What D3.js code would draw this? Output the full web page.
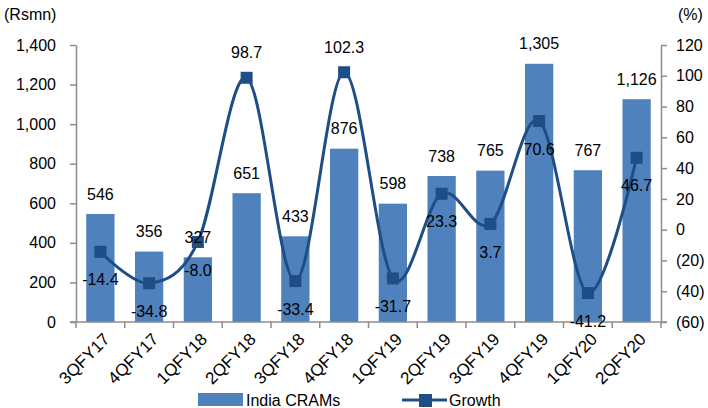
<!DOCTYPE html>
<html><head><meta charset="utf-8">
<script src="https://cdn.jsdelivr.net/npm/d3@7"></script>
<style>body{margin:0;background:#fff}svg{display:block;font-family:"Liberation Sans",Arial,sans-serif}</style>
</head><body><svg id="c" width="708" height="408"></svg>
<script>
const categories = ["3QFY17","4QFY17","1QFY18","2QFY18","3QFY18","4QFY18","1QFY19","2QFY19","3QFY19","4QFY19","1QFY20","2QFY20"];
const cramsValues = [546,356,327,651,433,876,598,738,765,1305,767,1126];
const growthValues = [-14.4,-34.8,-8.0,98.7,-33.4,102.3,-31.7,23.3,3.7,70.6,-41.2,46.7];
const growthAbove = [false,false,false,true,false,true,false,false,false,false,false,false];
const leftTicks = [0,200,400,600,800,1000,1200,1400];
const rightTicks = [-60,-40,-20,0,20,40,60,80,100,120];

const svg = d3.select("#c");
const L = 76, R = 661, T = 45, B = 322;
const x = d3.scaleBand().domain(categories).range([L, R]).paddingInner(0.42).paddingOuter(0.21);
const xc = d => x(d) + x.bandwidth()/2;
const yL = d3.scaleLinear().domain([0,1400]).range([B,T]);
const yR = d3.scaleLinear().domain([-60,120]).range([B,T]);
const axisCol = "#8c8c8c";
const barCol = "#4f81bd";
const lineCol = "#1f4e86";

// bars
svg.append("g").selectAll("rect").data(cramsValues).join("rect")
  .attr("x",(d,i)=>x(categories[i])).attr("width",x.bandwidth())
  .attr("y",d=>yL(d)).attr("height",d=>B-yL(d)).attr("fill",barCol);

// axes
const fmt = d3.format(",");
const gL = svg.append("g").attr("transform",`translate(${L},0)`)
  .call(d3.axisLeft(yL).tickValues(leftTicks).tickFormat(fmt).tickSize(6).tickSizeOuter(0).tickPadding(14));
const rfmt = d => d<0 ? `(${-d})` : `${d}`;
const gR = svg.append("g").attr("transform",`translate(${R},0)`)
  .call(d3.axisRight(yR).tickValues(rightTicks).tickFormat(rfmt).tickSize(6).tickSizeOuter(0).tickPadding(9));
const xb = [...categories.map(c=>x(c)-x.step()*x.paddingInner()/2), R];
const gX = svg.append("g");
gX.append("line").attr("x1",L-6).attr("x2",R+6).attr("y1",B).attr("y2",B).attr("stroke",axisCol).attr("stroke-width",1.5);
gX.selectAll("line.t").data(xb).join("line").attr("class","t")
  .attr("x1",d=>d).attr("x2",d=>d).attr("y1",B).attr("y2",B+6).attr("stroke",axisCol).attr("stroke-width",1.5);
gX.selectAll("text").data(categories).join("text")
  .attr("transform",d=>`translate(${xc(d)+2},${B+10}) rotate(-45)`)
  .attr("text-anchor","end").attr("dy","0.7em").attr("font-size",17).attr("fill","#000").text(d=>d);
[gL,gR].forEach(g=>{
  g.select(".domain").attr("stroke",axisCol).attr("stroke-width",1.5);
  g.selectAll(".tick line").attr("stroke",axisCol).attr("stroke-width",1.5);
  g.selectAll(".tick text").attr("font-size",16).attr("fill","#000").attr("font-family","Liberation Sans, Arial, sans-serif");
});

// line
const line = d3.line().x((d,i)=>xc(categories[i])).y(d=>yR(d)).curve(d3.curveCatmullRom.alpha(0));
svg.append("path").datum(growthValues).attr("d",line).attr("fill","none").attr("stroke",lineCol).attr("stroke-width",3);
svg.append("g").selectAll("rect").data(growthValues).join("rect")
  .attr("x",(d,i)=>xc(categories[i])-6).attr("y",d=>yR(d)-6).attr("width",12).attr("height",12).attr("fill",lineCol);

// labels
svg.append("g").selectAll("text").data(cramsValues).join("text")
  .attr("x",(d,i)=>xc(categories[i])).attr("y",d=>yL(d)-20).attr("dy","0.35em")
  .attr("text-anchor","middle").attr("font-size",16).attr("fill","#000").text(d=>fmt(d));
svg.append("g").selectAll("text").data(growthValues).join("text")
  .attr("x",(d,i)=>xc(categories[i])).attr("y",(d,i)=>yR(d)+(growthAbove[i]?-25:28)).attr("dy","0.35em")
  .attr("text-anchor","middle").attr("font-size",16).attr("fill","#000").text(d=>d.toFixed(1));

// axis titles
svg.append("text").attr("x",4).attr("y",20).attr("font-size",16).text("(Rsmn)");
svg.append("text").attr("x",678).attr("y",20).attr("font-size",16).text("(%)");

// legend
const lg = svg.append("g");
lg.append("rect").attr("x",198).attr("y",393).attr("width",45).attr("height",13).attr("fill",barCol);
lg.append("text").attr("x",246).attr("y",400).attr("dy","0.35em").attr("font-size",16).text("India CRAMs");
lg.append("line").attr("x1",402).attr("x2",447).attr("y1",400).attr("y2",400).attr("stroke",lineCol).attr("stroke-width",3);
lg.append("rect").attr("x",419).attr("y",394).attr("width",13).attr("height",13).attr("fill",lineCol);
lg.append("text").attr("x",449).attr("y",400).attr("dy","0.35em").attr("font-size",16).text("Growth");
</script></body></html>
